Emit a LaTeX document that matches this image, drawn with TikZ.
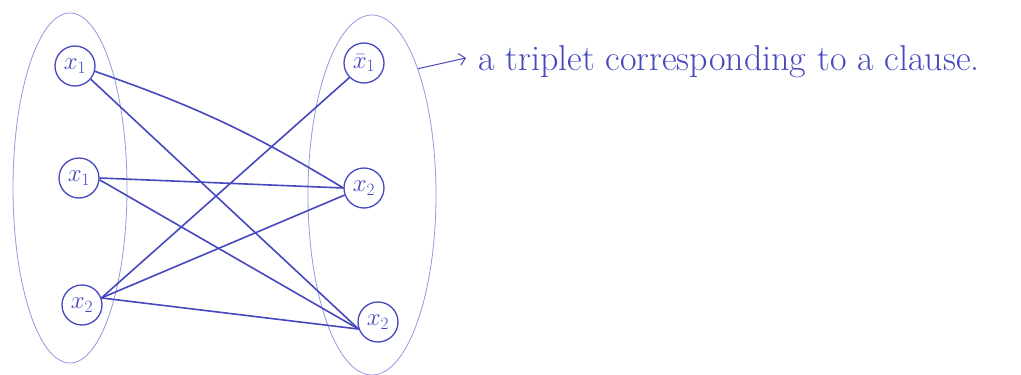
\documentclass[tikz,border=0pt]{standalone}
\usepackage{fontspec}
\usetikzlibrary{shapes.geometric,arrows.meta}
\definecolor{ink}{RGB}{70,72,190}
\definecolor{pale}{RGB}{150,150,225}
\tikzset{
  lit/.style={circle,draw=ink,line width=1.3pt,minimum size=40pt,inner sep=0pt,text=ink,font=\fontsize{24}{26}\selectfont},
  edge/.style={draw=ink,line width=1.6pt},
  group/.style={ellipse,draw=pale,line width=0.8pt,inner sep=0pt},
  note/.style={text=ink,anchor=west,font=\fontsize{36}{40}\selectfont,inner sep=0pt}
}
\begin{document}
\begin{tikzpicture}[x=1pt,y=-1pt]
\useasboundingbox (0,0) rectangle (1021,375);
% groups
\node[group,minimum width=114pt,minimum height=350pt] (L) at (70,188) {};
\node[group,minimum width=128pt,minimum height=360pt] (R) at (372,195) {};
% literals
\node[lit] (a1) at (75,66) {$x_1$};
\node[lit] (a2) at (79,178) {$x_1$};
\node[lit] (a3) at (82,305) {$x_2$};
\node[lit] (b1) at (364,63) {$\bar{x}_1$};
\node[lit] (b2) at (364,188) {$x_2$};
\node[lit] (b3) at (378,322) {$x_2$};
% connectors
\draw[edge] (a1.-15) to[bend left=6] (b2.west);
\draw[edge] (a1.-40) -- (b3.200);
\draw[edge] (a2.east) -- (b2.west);
\draw[edge] (a2.-5) -- (b3.200);
\draw[edge] (a3.20) -- (b1.225);
\draw[edge] (a3.20) -- (b2.200);
\draw[edge] (a3.20) -- (b3.200);
% annotation
\node[note] (t) at (478,62) {a triplet corresponding to a clause.};
\coordinate (ae) at (466,58);
\draw[ink,line width=1pt,-{Straight Barb[length=6pt]}] (R.70) -- (ae);
\end{tikzpicture}
\end{document}
